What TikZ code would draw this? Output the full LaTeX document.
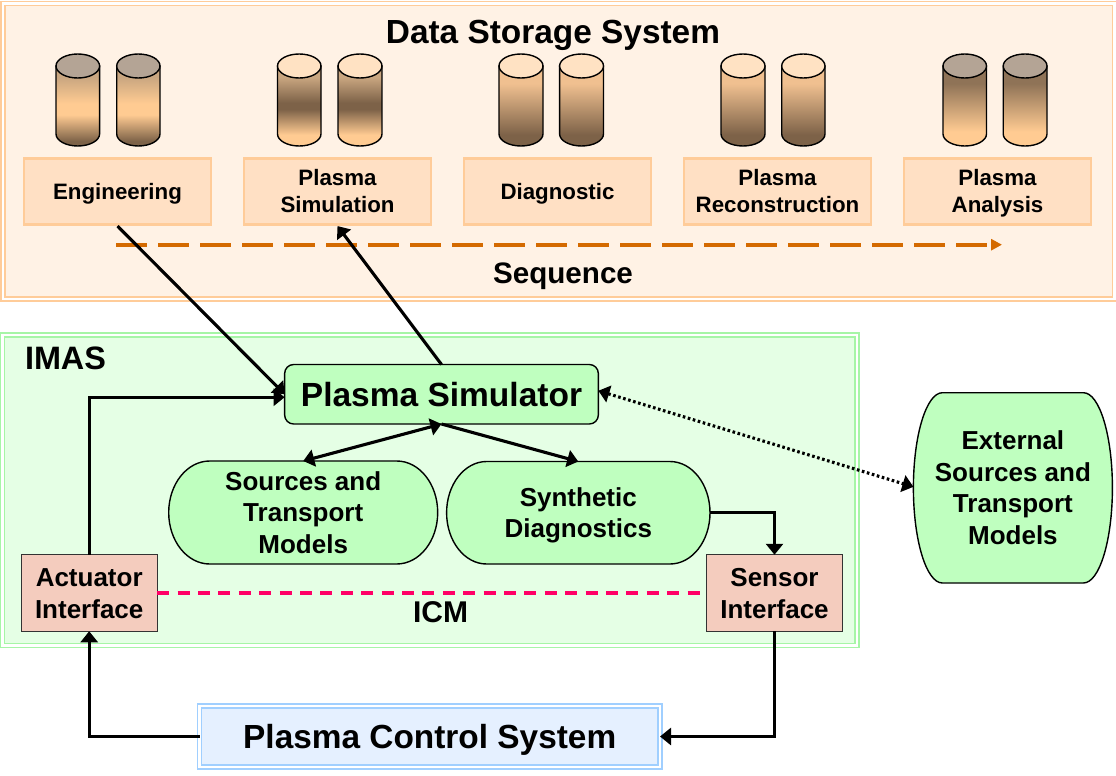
\documentclass[tikz,border=0pt]{standalone}
\usepackage{fontspec}
\setmainfont{Liberation Sans}
\usetikzlibrary{arrows.meta,calc}
\lineskiplimit=-1000pt
\newcommand{\tst}{\rule[-.284em]{0pt}{1.284em}}
\definecolor{dsfill}{HTML}{FFF2E5}
\definecolor{dsline}{HTML}{FFCC99}
\definecolor{catfill}{HTML}{FFE0C4}
\definecolor{imfill}{HTML}{E5FFE5}
\definecolor{imline}{HTML}{A6F5A6}
\definecolor{gnfill}{HTML}{BFFFBF}
\definecolor{pcfill}{HTML}{E5F0FF}
\definecolor{pcline}{HTML}{A0CFFF}
\definecolor{ifill}{HTML}{F4CCBE}
\definecolor{seqc}{HTML}{D46A00}
\definecolor{icmc}{HTML}{FF0066}
\definecolor{cA}{HTML}{FFCB92}
\definecolor{cB}{HTML}{7D6248}
\definecolor{cC}{HTML}{C9A680}
\definecolor{cD}{HTML}{F0C090}
\definecolor{cE}{HTML}{8F7357}
\pgfdeclareverticalshading{bodyA}{100bp}{color(0bp)=(cB);color(28bp)=(cB);color(44.5bp)=(cA);color(51.5bp)=(cA);color(68bp)=(cC);color(100bp)=(cC)}
\pgfdeclareverticalshading{bodyB}{100bp}{color(0bp)=(cA);color(32bp)=(cA);color(48bp)=(cB);color(52bp)=(cB);color(68bp)=(cC);color(100bp)=(cC)}
\pgfdeclareverticalshading{bodyC}{100bp}{color(0bp)=(cB);color(32bp)=(cB);color(64bp)=(cD);color(100bp)=(cD)}
\pgfdeclareverticalshading{bodyD}{100bp}{color(0bp)=(cA);color(34bp)=(cA);color(64bp)=(cE);color(100bp)=(cE)}
\colorlet{topgrey}{cB!58!white}
\colorlet{toplight}{cA!55!white}
\tikzset{
  frame/.style={draw=#1,double,line width=1.6pt,double distance=2.4pt,inner sep=0pt,outer sep=0pt},
  catbox/.style={draw=dsline,fill=catfill,line width=2.6pt,minimum width=187pt,minimum height=66.5pt,inner sep=0pt,outer sep=1.3pt,align=center,font=\fontsize{22.3}{27}\selectfont\bfseries},
  ifbox/.style={draw=black!80,fill=ifill,line width=1.4pt,minimum width=136pt,minimum height=76.5pt,inner sep=0pt,outer sep=0pt,align=center,font=\fontsize{26}{31.6}\selectfont\bfseries},
  modeltext/.style={inner sep=0pt,outer sep=0pt,align=center,font=\fontsize{26}{31.5}\selectfont\bfseries},
  conn/.style={line width=3.1pt,draw=black,-{Triangle[length=11pt,width=17pt]}},
  head/.style={inner sep=0pt,outer sep=0pt,font=\fontsize{33.4}{38}\selectfont\bfseries},
}
\newcommand{\cylinder}[4]{%
  \pgfmathsetmacro{\cyc}{(#1+#2)/2}\pgfmathsetmacro{\cyr}{(#2-#1)/2}\pgfmathsetmacro{\cyk}{\cyr*.55}%
  \draw[line width=1.4pt,shading=#3]
    (#1,66) -- (#1,134) .. controls (#1,140.6) and ({\cyc-\cyk},146) .. (\cyc,146)
    .. controls ({\cyc+\cyk},146) and (#2,140.6) .. (#2,134) -- (#2,66) -- cycle;
  \draw[line width=1.4pt,fill=#4] (\cyc,66) ellipse [x radius=\cyr pt,y radius=12pt];
}
\newcommand{\pillshape}[8]{%
  \pgfmathsetmacro{\pa}{#2+#6}\pgfmathsetmacro{\pb}{#4-#6}\pgfmathsetmacro{\pc}{(#3+#5)/2}%
  \pgfmathsetmacro{\pkx}{#6*.5523}\pgfmathsetmacro{\pky}{#7*.5523}%
  \draw[line width=1.4pt,fill=gnfill]
    (\pa,#3) -- (\pb,#3) .. controls ({\pb+\pkx},#3) and (#4,{\pc-\pky}) .. (#4,\pc)
    .. controls (#4,{\pc+\pky}) and ({\pb+\pkx},#5) .. (\pb,#5)
    -- (\pa,#5) .. controls ({\pa-\pkx},#5) and (#2,{\pc+\pky}) .. (#2,\pc)
    .. controls (#2,{\pc-\pky}) and ({\pa-\pkx},#3) .. (\pa,#3) -- cycle;
  \pgfmathsetmacro{\pw}{#4-#2}\pgfmathsetmacro{\ph}{#5-#3}\pgfmathsetmacro{\pcx}{(#2+#4)/2}%
  \node[modeltext,minimum width=\pw pt,minimum height=\ph pt] (#1) at (\pcx,\pc) {#8};
}
\begin{document}
\begin{tikzpicture}[x=1pt,y=-1pt]
\fill[white] (0,0) rectangle (1116,776);
\useasboundingbox (0,0) rectangle (1116,776);
% frames
\node[frame=dsline,fill=dsfill,minimum width=1111.5pt,minimum height=295.5pt] (ds) at (558.75,151.25) {};
\node[frame=imline,fill=imfill,minimum width=854.5pt,minimum height=310.5pt] (imas) at (429.75,490.25) {};
\node[frame=pcline,fill=pcfill,minimum width=460.5pt,minimum height=60.5pt,font=\fontsize{33.4}{38}\selectfont\bfseries] (pcs) at (429.75,736.5) {\tst Plasma Control System};
% titles
\node[head] (dstitle) at (553,32) {\tst Data Storage System};
\node[head,font=\fontsize{29.6}{34}\selectfont\bfseries] (seqlabel) at (563,272.5) {\tst Sequence};
\node[head,font=\fontsize{32.4}{38}\selectfont\bfseries] (imaslabel) at (65.5,358.3) {\tst IMAS};
\node[head,font=\fontsize{30}{34}\selectfont\bfseries] (icmlabel) at (440.5,611.3) {\tst ICM};
% cylinders
\cylinder{56}{99.6}{bodyA}{topgrey}
\cylinder{116.7}{160}{bodyA}{topgrey}
\cylinder{277.5}{321}{bodyB}{toplight}
\cylinder{338}{382}{bodyB}{toplight}
\cylinder{499}{543}{bodyC}{toplight}
\cylinder{559.6}{603.5}{bodyC}{toplight}
\cylinder{721}{765}{bodyC}{toplight}
\cylinder{781.7}{825}{bodyC}{toplight}
\cylinder{943}{986.5}{bodyD}{topgrey}
\cylinder{1003.2}{1047}{bodyD}{topgrey}
% category boxes
\node[catbox] (eng) at (117.5,191.5) {\tst Engineering};
\node[catbox] (psim) at (337.5,191.5) {\tst Plasma\\\tst Simulation};
\node[catbox] (diag) at (557.5,191.5) {\tst Diagnostic};
\node[catbox] (recon) at (777.5,191.5) {\tst Plasma\\\tst Reconstruction};
\node[catbox] (anal) at (997.5,191.5) {\tst Plasma\\\tst Analysis};
% sequence
\coordinate (seqA) at (116,244.7);
\coordinate (seqB) at (1002,244.7);
\draw[seqc,line width=3.8pt,dash pattern=on 30.7pt off 11.3pt,-{Triangle[length=11pt,width=11pt]}] (seqA) -- (seqB);
% IMAS contents
\node[draw=black,fill=gnfill,line width=1.4pt,rounded corners=9pt,minimum width=313.7pt,minimum height=59.5pt,inner sep=0pt,outer sep=0pt,font=\fontsize{33.5}{38}\selectfont\bfseries] (sim) at (441.5,394.25) {\tst Plasma Simulator};
\pillshape{src}{168.7}{461}{437.7}{564}{41}{51.5}{\tst Sources and\\\tst Transport\\\tst Models}
\pillshape{syn}{446.6}{461.5}{710}{564}{40}{51.2}{\tst Synthetic\\\tst Diagnostics}
\pillshape{ext}{913.4}{392.7}{1112.4}{583}{29}{95.1}{\tst External\\\tst Sources and\\\tst Transport\\\tst Models}
\node[ifbox] (act) at (89.2,593) {\tst Actuator\\\tst Interface};
\node[ifbox] (sen) at (774.5,593) {\tst Sensor\\\tst Interface};
% connectors
\draw[icmc,line width=3.2pt,dash pattern=on 12pt off 8.4pt] (act.east) -- (sen.west);
\draw[conn] (eng.south) -- (sim.west);
\draw[conn] (sim.north) -- (psim.south);
\draw[conn] (act.north) |- ([yshift=-3pt]sim.west);
\draw[line width=3.1pt,{Triangle[length=11pt,width=17pt]}-{Triangle[length=11pt,width=17pt]}] (src.north) -- (sim.south);
\draw[conn] (sim.south) -- (syn.north);
\draw[conn] (syn.east) -| (sen.north);
\draw[conn] (sen.south) |- (pcs.east);
\draw[conn] (pcs.west) -| (act.south);
\draw[line width=3.1pt,dash pattern=on 2.6pt off 2.6pt,{Triangle[length=11pt,width=17pt]}-{Triangle[length=11pt,width=17pt]}] ([yshift=3.5pt]sim.east) -- ([yshift=1pt]ext.west);
\end{tikzpicture}
\end{document}
